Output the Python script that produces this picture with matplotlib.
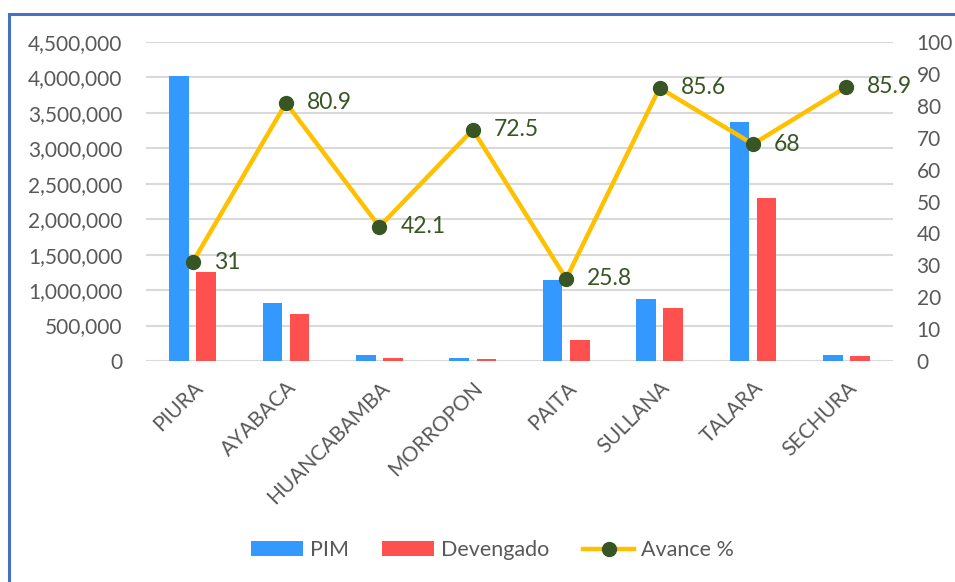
import matplotlib.pyplot as plt
from matplotlib.patches import Rectangle
import numpy as np

plt.rcParams['font.family'] = ['Lato', 'DejaVu Sans']

# data
provincias = ["PIURA", "AYABACA", "HUANCABAMBA", "MORROPON", "PAITA", "SULLANA", "TALARA", "SECHURA"]
pim = [4020000, 818000, 85000, 40000, 1143000, 875000, 3370000, 80000]
devengado = [1255000, 663000, 36000, 29000, 296000, 748000, 2300000, 69000]
avance = [31, 80.9, 42.1, 72.5, 25.8, 85.6, 68, 85.9]
avance_lbl = ["31", "80.9", "42.1", "72.5", "25.8", "85.6", "68", "85.9"]

grey = "#595959"
fs = 15
fig = plt.figure(figsize=(9.55, 5.82), dpi=100)
# blue frame around the chart
fig.patches.append(Rectangle((9/955, -0.05), 1.0, 1 - 14/582 + 0.05, transform=fig.transFigure,
                             fill=False, edgecolor="#4472C4", linewidth=2.2))

ax = fig.add_axes([146/955, 1 - 361/582, 747/955, 319/582])
x = np.arange(len(provincias))
w = 0.21
ax.bar(x - 0.145, pim, w, color="#3399FF", label="PIM", zorder=2)
ax.bar(x + 0.145, devengado, w, color="#FF5050", label="Devengado", zorder=2)
ax.set_xlim(-0.5, len(provincias) - 0.5)
ax.set_ylim(0, 4500000)
ax.set_yticks(np.arange(0, 4500001, 500000))
ax.set_yticklabels([f"{v:,.0f}" for v in np.arange(0, 4500001, 500000)])
ax.grid(axis="y", color="#D9D9D9", linewidth=1.5, zorder=0)
ax.set_axisbelow(True)
for s in ax.spines.values():
    s.set_visible(False)
ax.tick_params(axis="y", length=0, labelsize=fs, colors=grey, pad=17)
ax.set_xticks(x)
ax.set_xticklabels(provincias, rotation=45, ha="right", rotation_mode="anchor")
ax.tick_params(axis="x", length=0, labelsize=fs, colors=grey, pad=12)

ax2 = ax.twinx()
ax2.plot(x, avance, color="#FFC000", linewidth=3.2, marker="o", markersize=10,
         markerfacecolor="#375623", markeredgecolor="#375623", label="Avance %", zorder=3)
ax2.set_ylim(0, 100)
ax2.set_yticks(range(0, 101, 10))
for s in ax2.spines.values():
    s.set_visible(False)
ax2.tick_params(axis="y", length=0, labelsize=fs, colors=grey, pad=17)
for xi, yi, t in zip(x, avance, avance_lbl):
    ax2.annotate(t, (xi, yi), xytext=(15, 0), textcoords="offset points",
                 va="center", ha="left", fontsize=16.5, color="#375623")

h1, l1 = ax.get_legend_handles_labels()
h2, l2 = ax2.get_legend_handles_labels()
fig.legend(h1 + h2, l1 + l2, loc="center", bbox_to_anchor=(0.516, 1 - 550/582), ncol=3,
           frameon=False, fontsize=15.5, handlelength=2.4, handleheight=0.65, columnspacing=1.55,
           handletextpad=0.33, labelcolor=grey)

fig.savefig("out.png", dpi=100, facecolor="white")
